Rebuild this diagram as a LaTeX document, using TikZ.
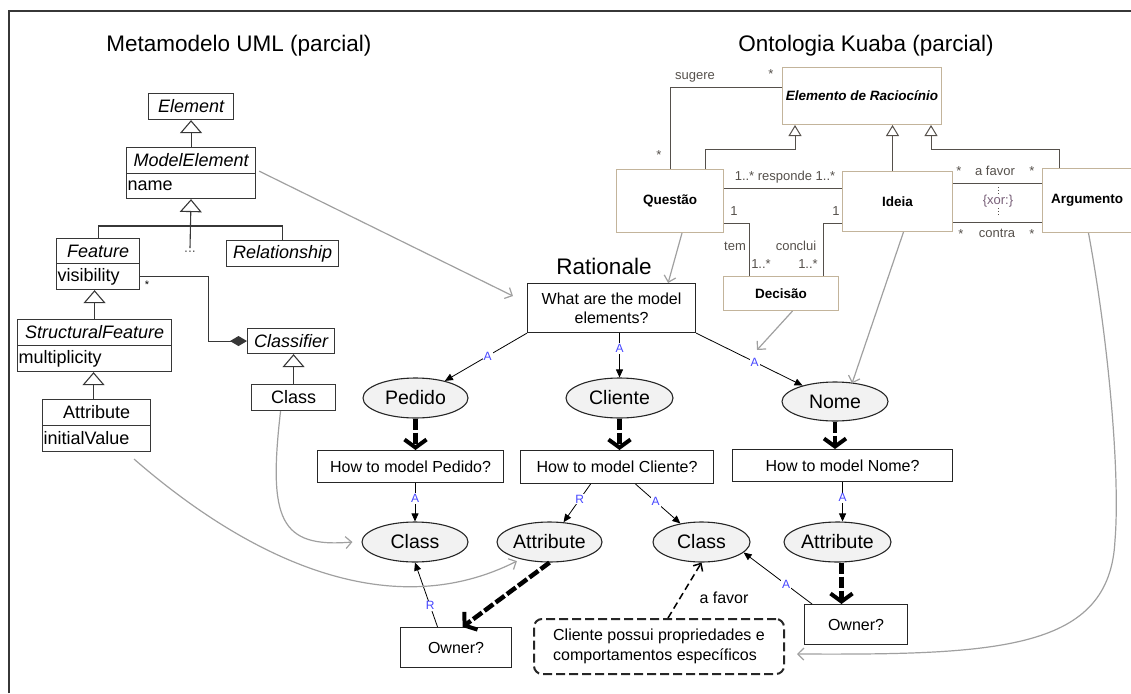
\documentclass[tikz,border=0pt]{standalone}
\usepackage{fontspec}
\setmainfont{Liberation Sans}
\usetikzlibrary{arrows.meta,shapes.geometric,calc}
\definecolor{umlc}{RGB}{55,55,55}
\definecolor{kbc}{RGB}{195,180,155}
\definecolor{kbl}{RGB}{85,80,75}
\definecolor{grayarr}{RGB}{160,160,160}
\definecolor{labblue}{RGB}{70,70,255}
\definecolor{ellfill}{RGB}{242,242,242}
\definecolor{xorc}{RGB}{120,95,120}
\newcommand{\myfs}[1]{\fontsize{#1}{#1}\selectfont}
\tikzset{
  umlh/.style={draw=umlc, line width=1.1pt, inner sep=0pt, anchor=north west, fill=white, font=\myfs{18}},
  umlit/.style={umlh, font=\myfs{18}\itshape},
  attr/.style={anchor=west, inner sep=1.5pt, font=\myfs{18}},
  umlline/.style={draw=umlc, line width=1.1pt},
  gen/.style={umlline, -{Triangle[open, length=13pt, width=22pt]}},
  comp/.style={umlline, -{Diamond[length=17pt, width=10pt]}},
  kbox/.style={draw=kbc, line width=1pt, inner sep=0pt, anchor=north west, fill=white, font=\myfs{13.5}\bfseries},
  kline/.style={draw=kbl, line width=1pt},
  kgen/.style={kline, -{Triangle[open, length=11pt, width=13pt]}},
  kl/.style={font=\myfs{13}, text=kbl, inner sep=1pt},
  rbox/.style={draw=black!85, line width=1.1pt, inner sep=0pt, anchor=north west, fill=white, font=\myfs{16}},
  rell/.style={ellipse, draw=black!85, line width=1.1pt, fill=ellfill, inner sep=0pt, font=\myfs{19.5}},
  arr/.style={line width=0.8pt, -{Triangle[length=8pt, width=7pt]}},
  lab/.style={font=\myfs{12}, text=labblue, fill=white, inner sep=1pt},
  thickarr/.style={line width=4.5pt, dash pattern=on 11pt off 3pt, -{Straight Barb[length=8pt, width=22pt, line width=4pt]}},
  grayc/.style={draw=grayarr, line width=1.2pt, -{Straight Barb[length=6pt, width=12pt]}},
  dasharr/.style={line width=1.5pt, dash pattern=on 7pt off 4pt, -{Straight Barb[length=6pt, width=11pt]}}
}
\begin{document}
\begin{tikzpicture}[x=1pt, y=-1pt]
\useasboundingbox (0,0) rectangle (1131,693);
% frame
\draw[line width=1.6pt, draw=umlc] (9,693) -- (9,11) -- (1131,11);
% titles
\node[font=\myfs{22.5}] (t1) at (239,46) {Metamodelo UML (parcial)};
\node[font=\myfs{22.5}] (t2) at (866,46) {Ontologia Kuaba (parcial)};

% ---------- UML metamodel ----------
\node[umlit, minimum width=85pt, minimum height=26pt] (el) at (148,93) {Element};
\node[umlit, minimum width=129pt, minimum height=26pt] (me) at (126,147) {ModelElement};
\node[umlh, minimum width=129pt, minimum height=25pt] (mea) at (126,173) {};
\node[attr] (meat) at (mea.west) {name};
\node[umlit, minimum width=83pt, minimum height=25pt] (feat) at (56,238) {Feature};
\node[umlh, minimum width=83pt, minimum height=26pt] (feata) at (56,263) {};
\node[attr] (featt) at (feata.west) {visibility};
\node[umlit, minimum width=112pt, minimum height=26pt] (rel) at (226,240) {Relationship};
\node[font=\myfs{14}, text=umlc!80, inner sep=1pt] (dots) at (190,252) {...};
\node[umlit, minimum width=154pt, minimum height=26pt] (sf) at (17,319) {StructuralFeature};
\node[umlh, minimum width=154pt, minimum height=26pt] (sfa) at (17,345) {};
\node[attr] (sfat) at (sfa.west) {multiplicity};
\node[umlh, minimum width=108pt, minimum height=26pt] (att) at (42,399) {Attribute};
\node[umlh, minimum width=108pt, minimum height=26pt] (atta) at (42,425) {};
\node[attr] (attat) at (atta.west) {initialValue};
\node[umlit, minimum width=87pt, minimum height=25pt] (cls) at (247,328) {Classifier};
\node[umlh, minimum width=84pt, minimum height=26pt] (cl) at (251,384) {Class};
\node[font=\myfs{11}, inner sep=0pt] (st0) at (147,285) {*};

\draw[gen] (me.north) -- (el.south);
\draw[gen] ([yshift=2pt]dots.north) -- (mea.south);
\draw[umlline] (feat.north) -- ++(0,-12) -| (rel.north);
\draw[gen] (sf.north) -- (sf.north |- feata.south);
\draw[gen] ([xshift=-3pt]att.north) -- ([xshift=-3pt]att.north |- sfa.south);
\draw[gen] (cl.north) -- (cl.north |- cls.south);
\draw[comp] (feata.east) -- ++(68,0) |- (cls.west);

% ---------- Kuaba ontology ----------
\node[kbox, font=\myfs{13.5}\bfseries\itshape, minimum width=159pt, minimum height=57pt] (elr) at (782,67) {Elemento de Raciocínio};
\node[kbox, minimum width=107pt, minimum height=63pt] (qu) at (616,169) {Questão};
\node[kbox, minimum width=110pt, minimum height=60pt] (id) at (842,171) {Ideia};
\node[kbox, minimum width=89pt, minimum height=64pt] (ar) at (1042,168) {Argumento};
\node[kbox, minimum width=115pt, minimum height=34pt] (de) at (723,276) {Decisão};

\draw[kline] ([yshift=8.5pt]elr.west) -| (qu.north);
\draw[kgen] ([xshift=-19pt]qu.north east) -- ++(0,-20) -| ([xshift=13pt]elr.south west);
\draw[kgen] ([xshift=-5pt]id.north) -- ([xshift=-5pt]id.north |- elr.south);
\draw[kgen] ([xshift=-27.5pt]ar.north) -- ++(0,-19) -| ([xshift=-11pt]elr.south east);
\draw[kline] ([yshift=12.5pt]qu.east) -- ([yshift=12.5pt]qu.east -| id.west);
\draw[kline] ([yshift=-22.5pt]qu.east) -| ([xshift=26pt]de.north west);
\draw[kline] ([yshift=-22pt]id.west) -| ([xshift=-16pt]de.north east);
\draw[kline] ([yshift=18pt]id.east) -- ([yshift=18pt]id.east -| ar.west);
\draw[kline] ([yshift=-21pt]id.east) -- ([yshift=-21pt]id.east -| ar.west);

\node[kl] (sug) at (695,77) {sugere};
\node[kl] (s1) at (771,74) {*};
\node[kl] (s2) at (659,155) {*};
\node[kl] (resp) at (785,177) {1..* responde 1..*};
\node[kl] (tem1) at (734,211) {1};
\node[kl] (tem) at (735,246) {tem};
\node[kl] (tem2) at (761,264) {1..*};
\node[kl] (con1) at (836,211) {1};
\node[kl] (con) at (796,246) {conclui};
\node[kl] (con2) at (808,264) {1..*};
\node[kl] (fa1) at (959,171) {*};
\node[kl] (fa) at (995,171) {a favor};
\node[kl] (fa2) at (1032,171) {*};
\node[kl] (co1) at (961,234) {*};
\node[kl] (co) at (997,233) {contra};
\node[kl] (co2) at (1032,234) {*};
\node[kl, text=xorc] (xor) at (998,201) {\{xor:\}};
\draw[draw=kbl, line width=1pt, dotted] (xor.north) -- ++(0,-7);
\draw[draw=kbl, line width=1pt, dotted] (xor.south) -- ++(0,9);

% ---------- Rationale ----------
\node[font=\myfs{22.5}] (rat) at (604,266) {Rationale};
\node[rbox, minimum width=168pt, minimum height=49pt, align=center, font=\fontsize{16}{19}\selectfont] (q1) at (527,283) {What are the model\\elements?};
\node[rell, minimum width=105pt, minimum height=40pt] (ped) at (415.5,398) {Pedido};
\node[rell, minimum width=107pt, minimum height=40pt] (cli) at (619.5,398) {Cliente};
\node[rell, minimum width=106pt, minimum height=39pt] (nom) at (835,401.5) {Nome};
\node[rbox, minimum width=186pt, minimum height=32pt] (hp) at (317,450) {How to model Pedido?};
\node[rbox, minimum width=193pt, minimum height=33pt] (hc) at (520,450) {How to model Cliente?};
\node[rbox, minimum width=220pt, minimum height=32pt] (hn) at (732,449) {How to model Nome?};
\node[rell, minimum width=106pt, minimum height=40pt] (c1) at (415,542) {Class};
\node[rell, minimum width=105pt, minimum height=40pt] (a1) at (549.5,542) {Attribute};
\node[rell, minimum width=97pt, minimum height=40pt] (c2) at (701.5,542) {Class};
\node[rell, minimum width=107pt, minimum height=40pt] (a2) at (837.5,542) {Attribute};
\node[rbox, minimum width=111pt, minimum height=40pt] (o1) at (400,627) {Owner?};
\node[rbox, minimum width=103pt, minimum height=40pt] (o2) at (804,604) {Owner?};
\node[rbox, draw=black!85, line width=2pt, dash pattern=on 9pt off 4pt, rounded corners=8pt, minimum width=250pt, minimum height=55pt, align=left, font=\fontsize{16}{20}\selectfont] (cp) at (533,618) {Cliente possui propriedades e\\comportamentos específicos};
\node[font=\myfs{16}, inner sep=1pt] (afv) at (724,598) {a favor};

% thin arrows with labels
\draw[arr] (q1.south west) -- node[lab, pos=0.48] {A} (ped);
\draw[arr] (q1.south -| cli.north) -- node[lab, pos=0.35] {A} (cli.north);
\draw[arr] (q1.south east) -- node[lab, pos=0.55] {A} (nom);
\draw[arr] (c1.north |- hp.south) -- node[lab, pos=0.4] {A} (c1.north);
\draw[arr] ([xshift=-26.5pt]hc.south) -- node[lab, pos=0.4] {R} (a1);
\draw[arr] ([xshift=18.5pt]hc.south) -- node[lab, pos=0.45] {A} (c2);
\draw[arr] ([xshift=-18.5pt]o1.north) -- node[lab, pos=0.33] {R} (c1.south);
\draw[arr] (hn.south) -- node[lab, pos=0.4] {A} (hn.south |- a2.north);
\draw[arr] ([xshift=8pt]o2.north west) -- node[lab, pos=0.38] {A} (c2.-14);

% thick arrows
\draw[thickarr] (ped.south) -- (ped.south |- hp.north);
\draw[thickarr] (cli.south) -- (cli.south |- hc.north);
\draw[thickarr] (nom.south) -- (nom.south |- hn.north);
\draw[thickarr] ([xshift=4pt]a2.south) -- ([xshift=4pt]a2.south |- o2.north);
\draw[thickarr] (a1.south) -- ([xshift=6.5pt]o1.north);

% dashed arrow
\draw[dasharr] ([xshift=9pt]cp.north) -- (c2.south);

% gray mapping arrows
\draw[grayc] ([xshift=3pt,yshift=3pt]me.south east) -- ([xshift=-14pt,yshift=12pt]q1.west);
\draw[grayc] ([xshift=12pt]qu.south) -- ([xshift=-28pt]q1.north east);
\coordinate (dend) at (757,350);
\draw[grayc] ([xshift=11.5pt]de.south) -- (dend);
\draw[grayc] ([xshift=6pt]id.south) -- ([xshift=17pt,yshift=-2pt]nom.north);
\draw[grayc] ([xshift=1.5pt]ar.south) .. controls (1110,350) and (1120,480) .. (1115,540) .. controls (1110,650) and (1000,655) .. ([xshift=12pt,yshift=-7.5pt]cp.east);
\draw[grayc] ([xshift=-13pt]cl.south) .. controls (268,520) and (280,548) .. ([xshift=-9pt]c1.west);
\draw[grayc] ([xshift=-17pt,yshift=-7pt]atta.south east) .. controls (250,560) and (390,625) .. ([xshift=-3pt,yshift=-2pt]a1.-150);
\end{tikzpicture}
\end{document}
